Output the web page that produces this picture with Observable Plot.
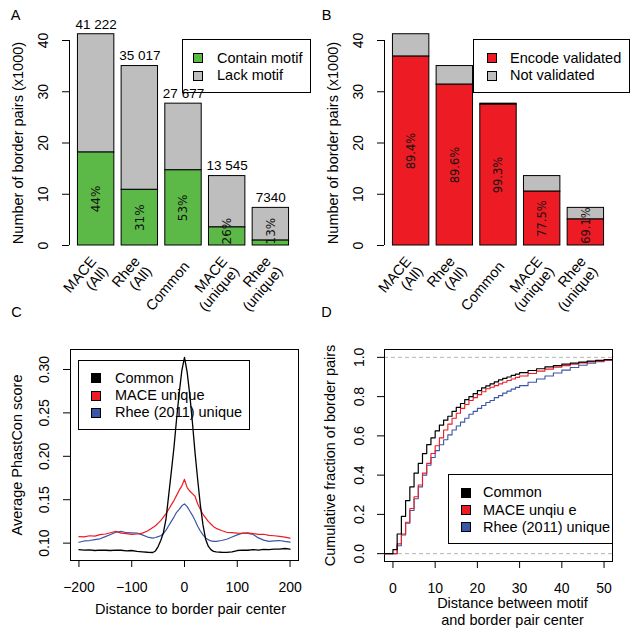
<!DOCTYPE html>
<html><head><meta charset="utf-8">
<script src="https://cdn.jsdelivr.net/npm/d3@7"></script>
<script src="https://cdn.jsdelivr.net/npm/@observablehq/plot@0.6"></script>
<style>
body{margin:0;background:#fff;}
#fig{position:relative;width:630px;height:630px;background:#fff;font-family:"Liberation Sans",Arial,sans-serif;overflow:hidden;}
.panel{position:absolute;width:315px;height:315px;}
.leg{position:absolute;border:1px solid #000;box-sizing:border-box;}
.sw{position:absolute;width:10px;height:10px;border:1px solid #000;box-sizing:border-box;}
.lt{position:absolute;font-size:14.5px;line-height:14.5px;white-space:nowrap;color:#000;}
</style></head><body><div id="fig"></div>
<script>
// ---------- data ----------
const categories = ["MACE\n(All)", "Rhee\n(All)", "Common", "MACE\n(unique)", "Rhee\n(unique)"];
const totals = [41.222, 35.017, 27.677, 13.545, 7.340];           // x1000 border pairs
const totalLabels = ["41 222", "35 017", "27 677", "13 545", "7340"];
const motifPct = [44, 31, 53, 26, 13];                             // panel A
const encodePct = [89.4, 89.6, 99.3, 77.5, 69.1];                  // panel B
const barTicks = [0, 10, 20, 30, 40];

// panel C : average PhastCon score vs distance
const phX = [-200,-190,-180,-170,-160,-150,-140,-130,-120,-110,-100,-90,-80,-70,
  -60,-55,-50,-45,-40,-35,-30,-25,-20,-15,-10,-5,0,5,10,15,20,25,30,35,40,45,50,55,
  60,70,80,90,100,110,120,130,140,150,160,170,180,190,200];
const phCommon = [.0925,.0920,.0922,.0915,.0920,.0918,.0915,.0920,.0918,.0912,.0915,.0905,.0900,.0895,
  .0892,.0910,.0960,.1030,.1120,.1280,.1550,.1820,.2100,.2430,.2730,.2990,.3140,.2970,.2710,.2390,.2040,.1730,.1440,.1210,.1045,.0965,.0925,.0905,
  .0900,.0895,.0893,.0900,.0915,.0920,.0918,.0925,.0920,.0928,.0925,.0932,.0930,.0938,.0930];
const phMace = [.1075,.1072,.1085,.1080,.1098,.1105,.1120,.1135,.1115,.1110,.1100,.1105,.1115,.1140,
  .1180,.1200,.1230,.1260,.1300,.1340,.1390,.1440,.1490,.1550,.1610,.1660,.1735,.1640,.1600,.1570,.1540,.1450,.1390,.1330,.1290,.1250,.1220,.1190,
  .1170,.1145,.1125,.1120,.1115,.1112,.1118,.1110,.1100,.1102,.1090,.1085,.1078,.1070,.1058];
const phRhee = [.1010,.1025,.1030,.1040,.1050,.1075,.1100,.1125,.1135,.1120,.1118,.1115,.1095,.1070,
  .1058,.1065,.1075,.1085,.1110,.1150,.1200,.1250,.1300,.1355,.1390,.1430,.1452,.1420,.1370,.1320,.1260,.1195,.1140,.1095,.1060,.1040,.1025,.1020,
  .1020,.1030,.1045,.1070,.1095,.1115,.1112,.1100,.1060,.1035,.1020,.1025,.1030,.1020,.1012];
const phXTicks = [-200, -100, 0, 100, 200];
const phYTicks = [0.10, 0.15, 0.20, 0.25, 0.30];

// panel D : cumulative fraction vs distance
const cdfX = [-2,0,1,2,3,4,5,6,7,8,9,10,11,12,13,14,15,16,17,18,19,20,21,22,23,24,25,26,27,28,29,30,
  32,34,36,38,40,42,44,46,48,50,52];
const cdfCommon = [0,.02,.10,.19,.27,.34,.41,.46,.51,.555,.59,.625,.655,.68,.70,.725,.745,.765,.785,.80,.815,.83,.845,.855,.865,.875,.885,.893,.90,.908,.915,.922,
  .933,.942,.951,.958,.965,.971,.976,.981,.985,.989,.991];
const cdfMace = [0,.00,.05,.10,.16,.23,.29,.35,.41,.46,.51,.55,.59,.63,.66,.69,.715,.74,.76,.78,.795,.81,.825,.84,.848,.856,.865,.873,.882,.89,.898,.905,
  .918,.93,.94,.95,.958,.965,.972,.977,.981,.985,.988];
const cdfRhee = [0,.00,.04,.095,.155,.22,.28,.34,.40,.45,.49,.525,.555,.58,.605,.63,.65,.67,.69,.71,.725,.74,.755,.77,.78,.795,.805,.818,.828,.838,.847,.856,
  .873,.89,.905,.92,.935,.948,.96,.97,.978,.984,.988];
const cdfXTicks = [0, 10, 20, 30, 40, 50];
const cdfYTicks = [0, 0.2, 0.4, 0.6, 0.8, 1.0];

const seriesNames = ["Common", "MACE unique", "Rhee (2011) unique"];
const seriesNamesD = ["Common", "MACE unqiu e", "Rhee (2011) unique"];

// ---------- styles ----------
const GREEN = "#5cb947", GRAY = "#bebebe", RED = "#ed1c24", BLUE = "#3a56a6", BLACK = "#000";
const FONT = "Liberation Sans, Arial, sans-serif";
const svgStyle = {background: "transparent", overflow: "visible", fontFamily: FONT, fontSize: "14px"};
const fig = document.getElementById("fig");
const C = {textAnchor: "middle", lineAnchor: "middle"};

function legend(left, top, w, h, swLeft, txtLeft, items) {
  const d = document.createElement("div");
  d.className = "leg";
  Object.assign(d.style, {left: left + "px", top: top + "px", width: w + "px", height: h + "px"});
  fig.appendChild(d);
  for (const it of items) {
    const s = document.createElement("div");
    s.className = "sw";
    Object.assign(s.style, {left: swLeft + "px", top: (it.cy - 5) + "px", background: it.color});
    fig.appendChild(s);
    const t = document.createElement("div");
    t.className = "lt";
    t.textContent = it.label;
    Object.assign(t.style, {left: txtLeft + "px", top: (it.cy - 7.5) + "px"});
    fig.appendChild(t);
  }
}

function place(node, left, top) {
  const d = document.createElement("div");
  d.className = "panel";
  d.style.left = left + "px"; d.style.top = top + "px";
  d.appendChild(node);
  fig.appendChild(d);
}

// ---------- legends (under the plots) ----------
legend(182, 39, 129, 54, 193, 217, [
  {color: GREEN, label: "Contain motif", cy: 58},
  {color: GRAY, label: "Lack motif", cy: 75.5}]);
legend(473, 39, 157, 54, 487, 510, [
  {color: RED, label: "Encode validated", cy: 58},
  {color: GRAY, label: "Not validated", cy: 75.5}]);
legend(78, 360, 172, 70, 91, 115, [
  {color: BLACK, label: seriesNames[0], cy: 378.3},
  {color: RED, label: seriesNames[1], cy: 395.5},
  {color: BLUE, label: seriesNames[2], cy: 412.7}]);
legend(448, 474, 165, 70, 461, 483, [
  {color: BLACK, label: seriesNamesD[0], cy: 492.7},
  {color: RED, label: seriesNamesD[1], cy: 510},
  {color: BLUE, label: seriesNamesD[2], cy: 527}]);

// ---------- bar panels ----------
function barPanel(letter, letterDx, pcts, pctText, partColor, minLabelY, pctFont, showTotals) {
  const rows = categories.map((c, i) => {
    const x1 = 0.2 + 1.2 * i;            // R barplot layout (space = 0.2)
    return {c, x1, x2: x1 + 1, xm: x1 + 0.5, total: totals[i], part: totals[i] * pcts[i] / 100,
            tl: totalLabels[i], pl: pctText(pcts[i])};
  });
  const xd = [-0.032, 6.232];
  return Plot.plot({
    width: 315, height: 315, marginLeft: 69, marginRight: 18, marginTop: 40, marginBottom: 70,
    x: {domain: xd, axis: null},
    y: {domain: [0, 40]},
    style: svgStyle,
    marks: [
      Plot.rect(rows, {x1: "x1", x2: "x2", y1: "part", y2: "total", fill: GRAY, stroke: "#000", strokeWidth: 1}),
      Plot.rect(rows, {x1: "x1", x2: "x2", y1: 0, y2: "part", fill: partColor, stroke: "#000", strokeWidth: 1}),
      Plot.text(rows, {x: "xm", y: r => Math.max(r.part / 2, minLabelY), text: "pl", rotate: -90,
        fontSize: pctFont, fontFamily: "DejaVu Sans", fill: "#111", ...C}),
      showTotals ? Plot.text(rows, {x: "xm", y: "total", text: "tl", dy: -10, fontSize: 13.5, ...C}) : null,
      Plot.text(rows, {x: "xm", text: "c", frameAnchor: "bottom", rotate: -50, textAnchor: "end", lineAnchor: "middle",
        dx: 3, dy: 18, fontSize: 14.5, lineHeight: 1.05}),
      Plot.ruleX([xd[0]], {y1: barTicks[0], y2: barTicks[barTicks.length - 1], strokeWidth: 1}),
      Plot.axisY(barTicks, {tickSize: 7, tickFormat: () => "", label: null}),
      Plot.text(barTicks, {y: d => d, text: d => String(d), frameAnchor: "left", rotate: -90, dx: -26, fontSize: 14, ...C}),
      Plot.text(["Number of border pairs (x1000)"], {frameAnchor: "left", rotate: -90, dx: -51, fontSize: 14.5, ...C}),
      Plot.text([letter], {frameAnchor: "top-left", dx: letterDx, dy: -25, fontSize: 14.5, ...C})
    ]
  });
}

place(barPanel("A", -54, motifPct, p => p + "%", GREEN, 2.8, 12, true), 0, 0);
place(barPanel("B", -58, encodePct, p => p.toFixed(1) + "%", RED, 3.9, 11.5, false), 315, 0);

// ---------- panel C ----------
const toPts = (xs, ys) => xs.map((x, i) => [x, ys[i]]);
const fmtMinus = d => d < 0 ? "\u2212" + (-d) : String(d);
const plotC = Plot.plot({
  width: 315, height: 315, marginLeft: 70, marginRight: 17, marginTop: 34, marginBottom: 70,
  x: {domain: [-216, 216]},
  y: {domain: [0.080, 0.323]},
  style: svgStyle,
  marks: [
    Plot.frame({stroke: "#000", strokeWidth: 1}),
    Plot.line(toPts(phX, phRhee), {stroke: BLUE, strokeWidth: 1.2}),
    Plot.line(toPts(phX, phMace), {stroke: RED, strokeWidth: 1.2}),
    Plot.line(toPts(phX, phCommon), {stroke: BLACK, strokeWidth: 1.3}),
    Plot.axisX(phXTicks, {tickSize: 7, tickFormat: () => "", label: null}),
    Plot.text(phXTicks, {x: d => d, text: fmtMinus, frameAnchor: "bottom", dy: 27, fontSize: 14, ...C}),
    Plot.axisY(phYTicks, {tickSize: 7, tickFormat: () => "", label: null}),
    Plot.text(phYTicks, {y: d => d, text: d => d3.format(".2f")(d), frameAnchor: "left", rotate: -90, dx: -26, fontSize: 14, ...C}),
    Plot.text(["Average PhastCon score"], {frameAnchor: "left", rotate: -90, dx: -53, fontSize: 14.5, ...C}),
    Plot.text(["Distance to border pair center"], {frameAnchor: "bottom", dx: 6, dy: 49, fontSize: 14.5, ...C}),
    Plot.text(["C"], {frameAnchor: "top-left", dx: -54, dy: -37, fontSize: 14.5, ...C})
  ]
});
place(plotC, 0, 315);

// ---------- panel D ----------
const plotD = Plot.plot({
  width: 315, height: 315, marginLeft: 69, marginRight: 18, marginTop: 34, marginBottom: 69,
  x: {domain: [-2, 52]},
  y: {domain: [-0.04, 1.04]},
  style: svgStyle,
  marks: [
    Plot.ruleY([0, 1], {stroke: "#b4b4b4", strokeDasharray: "4,3", strokeWidth: 1}),
    Plot.frame({stroke: "#000", strokeWidth: 1}),
    Plot.line(toPts(cdfX, cdfRhee), {stroke: BLUE, strokeWidth: 1.1, curve: "step-after", clip: true}),
    Plot.line(toPts(cdfX, cdfMace), {stroke: RED, strokeWidth: 1.1, curve: "step-after", clip: true}),
    Plot.line(toPts(cdfX, cdfCommon), {stroke: BLACK, strokeWidth: 1.2, curve: "step-after", clip: true}),
    Plot.axisX(cdfXTicks, {tickSize: 7, tickFormat: () => "", label: null}),
    Plot.text(cdfXTicks, {x: d => d, text: d => String(d), frameAnchor: "bottom", dy: 27, fontSize: 14, ...C}),
    Plot.axisY(cdfYTicks, {tickSize: 7, tickFormat: () => "", label: null}),
    Plot.text(cdfYTicks, {y: d => d, text: d => d3.format(".1f")(d), frameAnchor: "left", rotate: -90, dx: -25, fontSize: 14, ...C}),
    Plot.text(["Cumulative fraction of border pairs"], {frameAnchor: "left", rotate: -90, dx: -54, fontSize: 14.5, ...C}),
    Plot.text(["Distance between motif\nand border pair center"], {frameAnchor: "bottom", dx: 14, dy: 49.5, fontSize: 14.5, lineHeight: 1.17, ...C}),
    Plot.text(["D"], {frameAnchor: "top-left", dx: -58, dy: -37, fontSize: 14.5, ...C})
  ]
});
place(plotD, 315, 315);
</script></body></html>
